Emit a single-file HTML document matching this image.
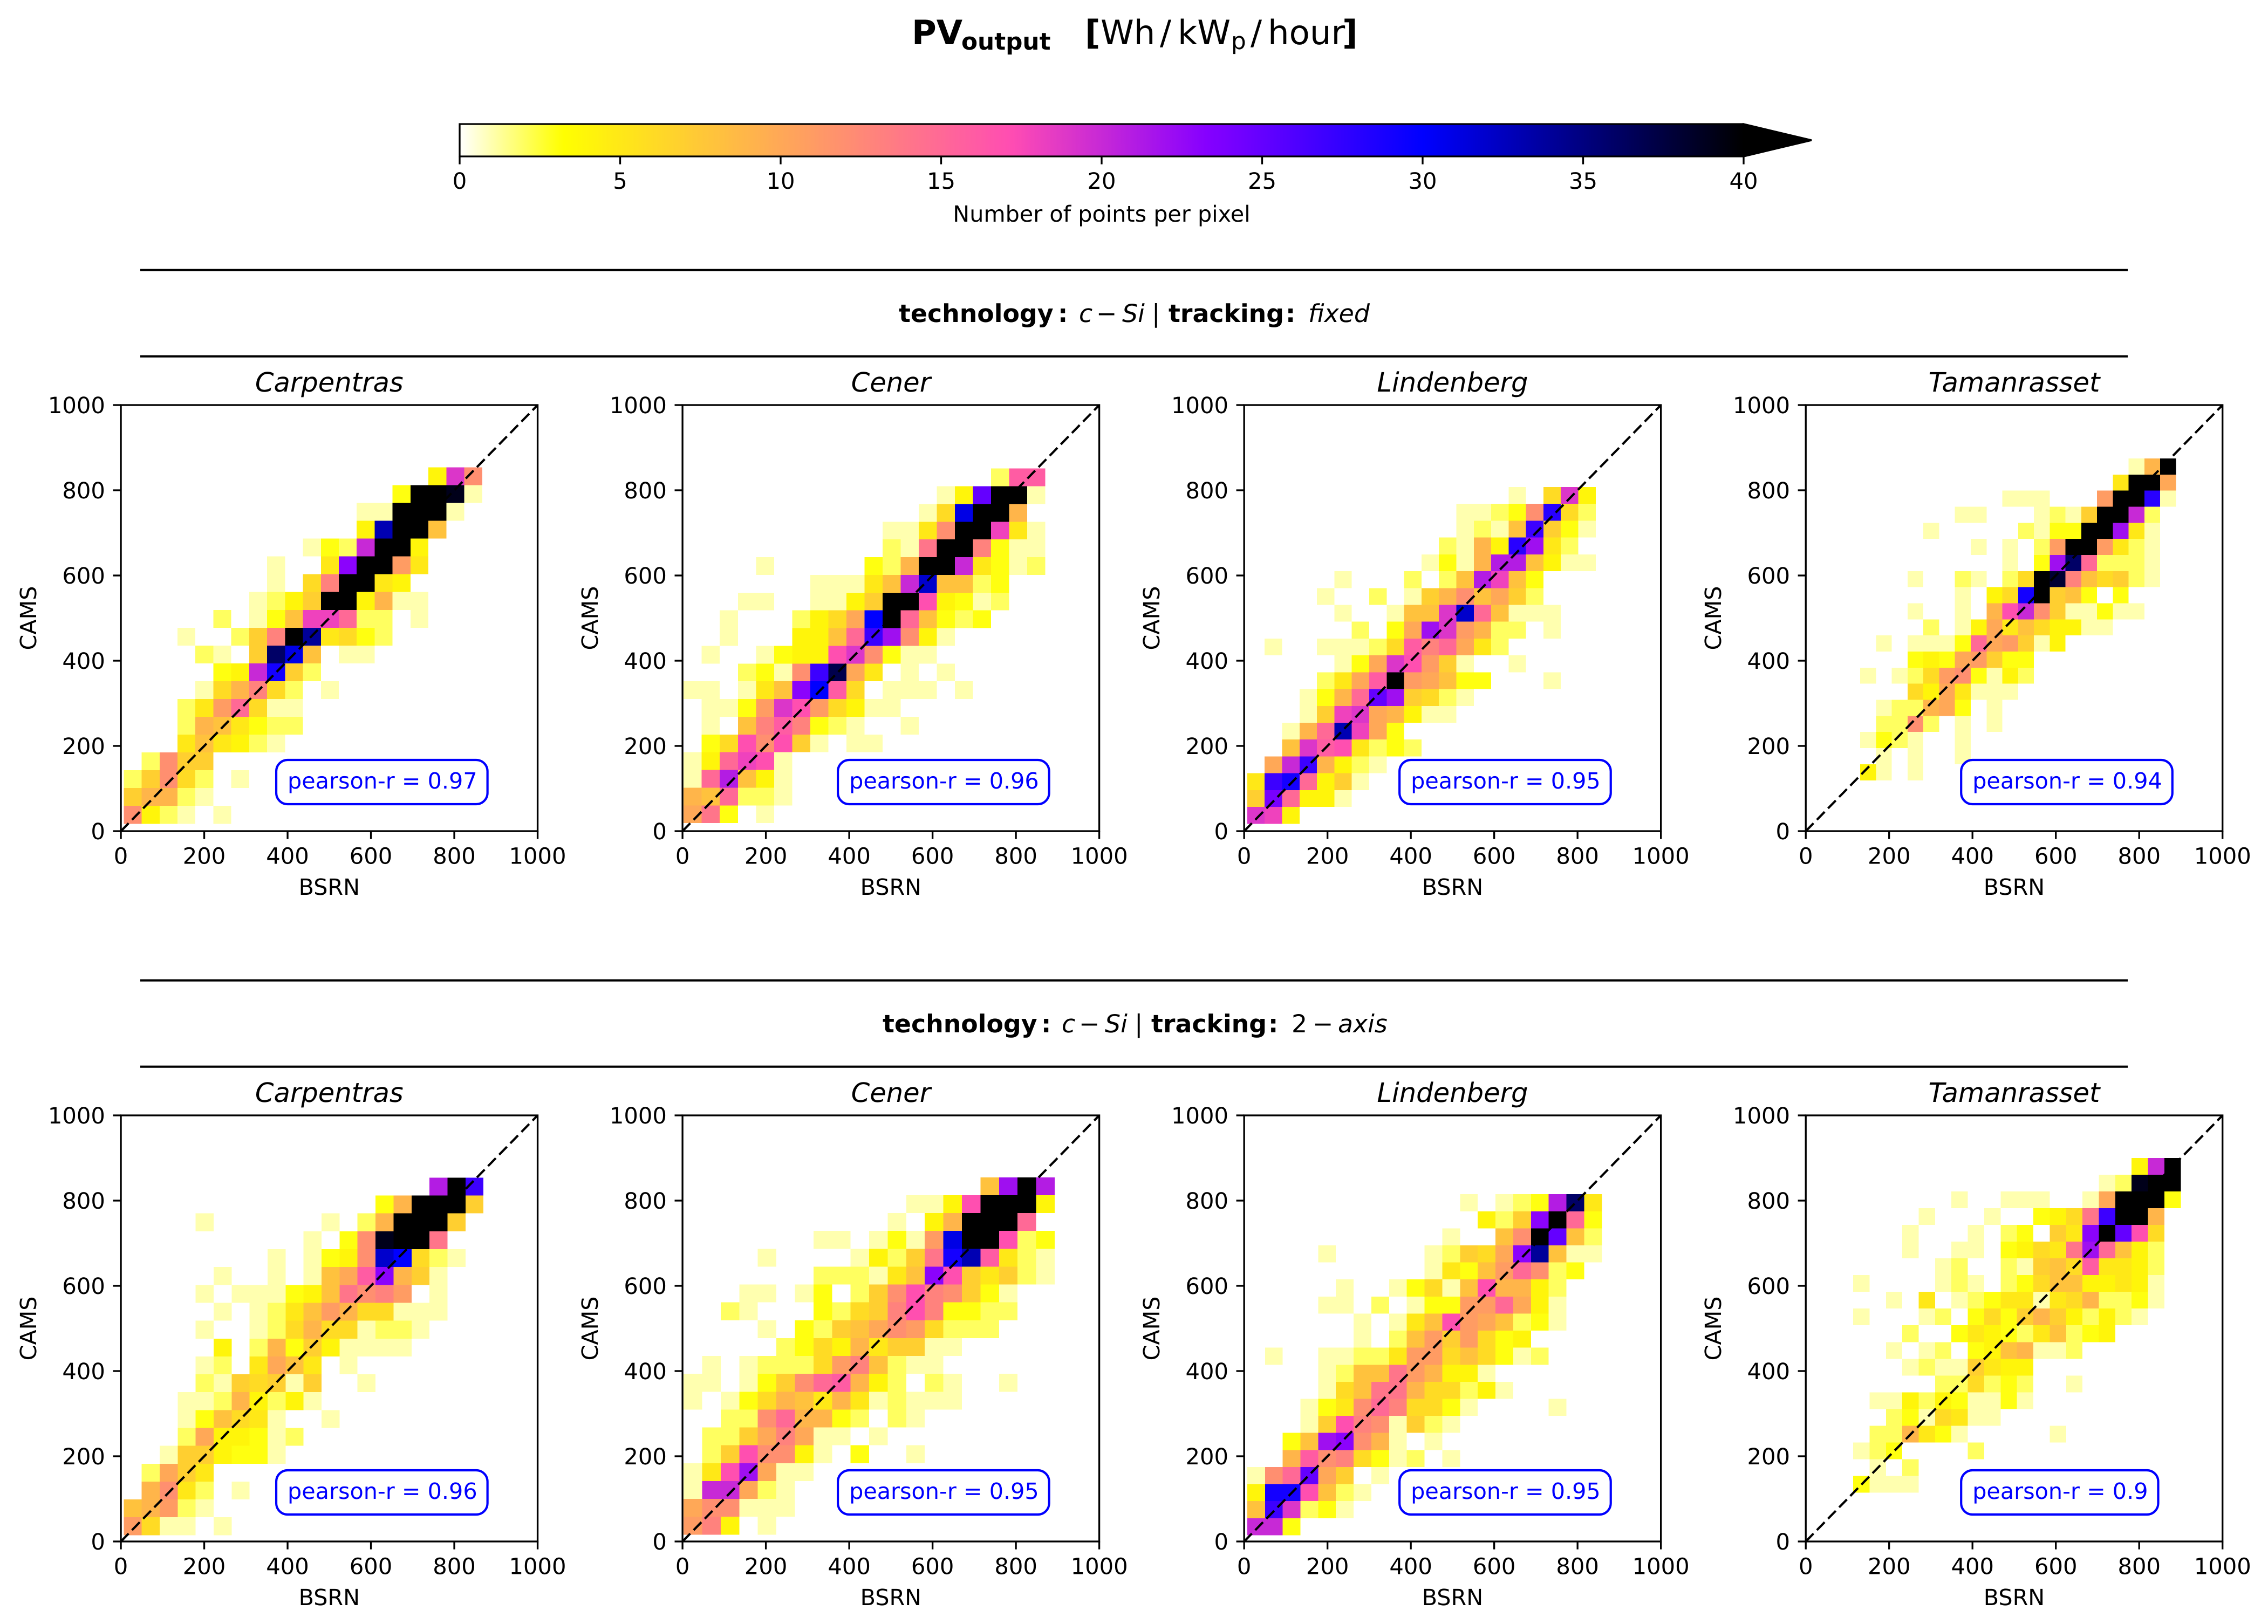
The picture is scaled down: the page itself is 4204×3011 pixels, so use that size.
<!DOCTYPE html>
<html lang="en">
<head>
<meta charset="utf-8">
<title>PV output density scatter</title>
<style>
html,body{margin:0;padding:0;background:#fff}
svg{display:block}
text{font-family:"DejaVu Sans","Liberation Sans",sans-serif;fill:#000;text-rendering:geometricPrecision}
.b{font-weight:bold}
.i{font-style:italic}
</style>
</head>
<body>
<svg id="figure" xmlns="http://www.w3.org/2000/svg" width="4204" height="3011" viewBox="0 0 4204 3011">
<rect x="0" y="0" width="4204" height="3011" fill="#fff"/>
<g>
<text class="b" x="1690" y="82" font-size="62.5">PV</text>
<text class="b" x="1782" y="92" font-size="43.75">output</text>
<text class="b" x="2011" y="82" font-size="62.5">[</text>
<text x="2040" y="82" font-size="62.5">Wh</text>
<text x="2150" y="82" font-size="62.5">/</text>
<text x="2183" y="82" font-size="62.5">kW</text>
<text x="2282" y="91" font-size="43.75">p</text>
<text x="2318" y="82" font-size="62.5">/</text>
<text x="2350" y="82" font-size="62.5">hour</text>
<text class="b" x="2488" y="82" font-size="62.5">]</text>
</g>
<g>
<line x1="260" x2="3944" y1="500.7" y2="500.7" stroke="#000" stroke-width="4.17"/>
<line x1="260" x2="3944" y1="660.7" y2="660.7" stroke="#000" stroke-width="4.17"/>
<text class="b" x="1666" y="597" font-size="45.8">technology</text>
<text class="b" x="1961" y="597" font-size="45.8">:</text>
<text class="i" x="2000" y="597" font-size="45.8">c</text>
<text x="2032" y="597" font-size="45.8">−</text>
<text class="i" x="2080" y="597" font-size="45.8">Si</text>
<text x="2135" y="597" font-size="45.8">|</text>
<text class="b" x="2166" y="597" font-size="45.8">tracking</text>
<text class="b" x="2383" y="597" font-size="45.8">:</text>
<text class="i" x="2425" y="597" font-size="45.8">fixed</text>
</g>
<g>
<line x1="260" x2="3944" y1="1817.7" y2="1817.7" stroke="#000" stroke-width="4.17"/>
<line x1="260" x2="3944" y1="1977.7" y2="1977.7" stroke="#000" stroke-width="4.17"/>
<text class="b" x="1636" y="1914" font-size="45.8">technology</text>
<text class="b" x="1930" y="1914" font-size="45.8">:</text>
<text class="i" x="1968" y="1914" font-size="45.8">c</text>
<text x="2000" y="1914" font-size="45.8">−</text>
<text class="i" x="2048" y="1914" font-size="45.8">Si</text>
<text x="2103" y="1914" font-size="45.8">|</text>
<text class="b" x="2134" y="1914" font-size="45.8">tracking</text>
<text class="b" x="2351" y="1914" font-size="45.8">:</text>
<text x="2394" y="1914" font-size="45.8">2</text>
<text x="2433" y="1914" font-size="45.8">−</text>
<text class="i" x="2480" y="1914" font-size="45.8">axis</text>
</g>
<g id="colorbar">
<defs><linearGradient id="cbar-gradient" x1="0" x2="1" y1="0" y2="0"></linearGradient></defs>
<text x="2042" y="411" font-size="41.3" text-anchor="middle">Number of points per pixel</text>
</g>
<g id="panels"></g>
</svg>
<script>
// Each matrix: 20 rows listed from highest CAMS bin to lowest; columns from lowest BSRN bin upward (trailing zeros omitted).
const carpentrasFixed = [
[0,0,0,0,0,0,0,0,0,0,0,0,0,0,0,0,0,4,19,12],
[0,0,0,0,0,0,0,0,0,0,0,0,0,0,0,3,40,40,39,1],
[0,0,0,0,0,0,0,0,0,0,0,0,0,1,1,40,40,40,1],
[0,0,0,0,0,0,0,0,0,0,0,0,0,4,33,40,40,8],
[0,0,0,0,0,0,0,0,0,0,1,3,2,20,40,40,4],
[0,0,0,0,0,0,0,0,1,0,0,5,23,40,40,11,5],
[0,0,0,0,0,0,0,0,1,0,6,13,40,40,5,4],
[0,0,0,0,0,0,0,1,2,4,7,40,40,4,9,1,1],
[0,0,0,0,0,2,0,1,3,8,18,18,15,2,2,0,1],
[0,0,0,1,0,0,2,7,13,40,34,5,6,3,2],
[0,0,0,0,2,1,0,7,36,31,8,0,1,1],
[0,0,0,0,0,3,4,20,29,7,2],
[0,0,0,0,1,6,9,13,6,2,0,1],
[0,0,0,2,5,11,15,6,1,1],
[0,0,0,2,9,8,5,3,2,2],
[0,0,0,5,8,5,4,2,1],
[0,2,12,7,7],
[2,7,12,6,2,0,1],
[7,9,9,2,1],
[12,4,2,1,0,1]
];
const carpentrasFixedBins = [6.8,867,17.4,853.9];
const cenerFixed = [
[0,0,0,0,0,0,0,0,0,0,0,0,0,0,0,0,0,2,16,16],
[0,0,0,0,0,0,0,0,0,0,0,0,0,0,1,4,25,40,40,1],
[0,0,0,0,0,0,0,0,0,0,0,0,0,1,6,31,40,40,9],
[0,0,0,0,0,0,0,0,0,0,0,1,1,5,12,40,40,18,5,1],
[0,0,0,0,0,0,0,0,0,0,0,2,1,14,40,40,13,3,1,1],
[0,0,0,0,1,0,0,0,0,0,3,2,9,40,40,20,5,3,1,2],
[0,0,0,0,0,0,0,1,1,1,5,8,20,32,8,8,2,3],
[0,0,0,1,1,0,0,1,1,4,7,40,40,17,4,3,1,2],
[0,0,1,0,0,0,2,4,6,10,30,40,15,8,3,2,3],
[0,0,1,0,0,0,4,4,8,15,27,22,12,4,1],
[0,1,0,0,1,3,4,4,17,19,12,3,1,1],
[0,0,0,2,3,1,12,27,37,10,5,0,1,0,1],
[1,1,0,1,5,8,23,30,16,6,0,1,1,1,0,1],
[0,1,1,3,11,19,17,11,6,4,1,1],
[0,1,0,8,13,16,13,3,2,1,0,0,1],
[0,3,6,17,12,17,7,1,0,1,1],
[1,4,15,18,17,1],
[1,15,21,8,4,1],
[9,8,15,2,2,1],
[10,14,3,0,1]
];
const cenerFixedBins = [2.7,870.7,18.8,851];
const lindenbergFixed = [
[0,0,0,0,0,0,0,0,0,0,0,0,0,0,0,1,0,6,19,4],
[0,0,0,0,0,0,0,0,0,0,0,0,1,1,2,3,12,28,6,2],
[0,0,0,0,0,0,0,0,0,0,0,0,1,2,1,8,27,7,3,1],
[0,0,0,0,0,0,0,0,0,0,0,2,1,9,4,28,22,5,2],
[0,0,0,0,0,0,0,0,0,0,1,3,1,9,21,21,8,4,1,1],
[0,0,0,0,0,1,0,0,0,2,0,2,8,21,18,8,3],
[0,0,0,0,1,0,0,2,0,1,7,9,12,8,10,7,2],
[0,0,0,0,0,1,0,0,1,8,8,19,32,15,8,1,1,1],
[0,0,0,0,0,0,2,0,3,10,22,19,11,9,2,2,0,1],
[0,1,0,0,1,1,1,2,6,16,13,15,10,5,2],
[0,0,0,0,0,1,3,10,19,17,11,7,1,0,0,1],
[0,0,0,0,2,5,10,16,40,11,10,8,3,3,0,0,0,1],
[0,0,0,1,3,9,15,25,22,7,6,2,1],
[0,0,0,1,7,18,19,10,9,4,1,1],
[0,0,1,9,15,33,18,10,3],
[0,0,8,19,16,17,5,2,3,2],
[0,10,20,27,9,4,2,1],
[5,27,29,15,4,7,1],
[7,24,15,4,4,1],
[19,18,4]
];
const lindenbergFixedBins = [7.4,843.6,17.4,807.6];
const tamanrassetFixed = [
[0,0,0,0,0,0,0,0,0,0,0,0,0,0,0,0,0,1,9,40],
[0,0,0,0,0,0,0,0,0,0,0,0,0,0,0,0,5,40,40,10],
[0,0,0,0,0,0,0,0,0,1,1,1,0,0,0,11,40,40,28,1],
[0,0,0,0,0,0,1,1,0,0,0,1,2,1,7,40,40,20,2],
[0,0,0,0,1,0,0,0,0,0,2,1,3,3,40,40,22,5,1],
[0,0,0,0,0,0,0,1,0,1,0,2,11,40,40,11,5,2,1],
[0,0,0,0,0,0,0,0,0,1,0,3,22,36,15,2,2,2,1],
[0,0,0,1,0,0,2,1,0,2,6,40,38,13,8,6,7,2,1],
[0,0,0,0,0,0,1,0,4,6,29,40,7,8,3,0,3],
[0,0,0,1,0,0,1,0,9,17,20,12,7,1,1,3,1,1],
[0,0,0,0,2,0,1,4,10,5,8,6,4,4,1,1],
[0,1,0,1,1,1,3,15,10,11,7,1,4],
[0,0,0,3,4,3,10,11,7,3,3],
[1,0,1,2,6,11,12,3,1,4,2],
[0,0,0,6,4,10,5,1,1,1],
[0,1,2,2,9,10,3,0,1],
[0,2,2,12,2,0,1,0,1],
[1,3,2,1,0,0,1],
[0,1,0,1,0,0,1],
[4,1,0,1]
];
const tamanrassetFixedBins = [130.7,888.3,119.3,874.7];
const carpentrasTwoAxis = [
[0,0,0,0,0,0,0,0,0,0,0,0,0,0,0,0,0,21,40,27],
[0,0,0,0,0,0,0,0,0,0,0,0,0,0,3,9,40,40,40,7],
[0,0,0,0,1,0,0,0,0,0,0,1,0,2,9,40,40,40,7],
[0,0,0,0,0,0,0,0,0,0,1,0,3,12,39,40,40,14],
[0,0,0,0,0,0,0,0,1,0,1,3,4,12,32,30,6,2,1],
[0,0,0,0,0,1,0,0,1,0,1,8,10,16,23,9,7,1],
[0,0,0,0,1,0,1,1,1,3,4,8,14,12,13,11,0,1],
[0,0,0,0,0,1,0,1,2,5,8,11,9,6,6,1,1,1],
[0,0,0,0,1,0,0,1,2,6,9,6,6,1,2,2,1],
[0,0,0,0,0,4,0,2,9,3,7,4,1,1,1,1],
[0,0,0,0,1,2,0,5,10,8,5,0,1],
[0,0,0,0,2,1,7,6,7,1,7,0,0,1],
[0,0,0,1,1,2,9,4,2,4,1],
[0,0,0,1,3,8,6,5,1,0,0,1],
[0,0,0,2,10,4,4,3,1,2],
[0,0,1,7,7,4,3,3,1],
[0,2,10,7,5],
[0,9,12,5,2,0,1],
[8,9,11,2,1],
[11,6,1,1,0,1]
];
const carpentrasTwoAxisBins = [6.8,870,14.7,853.9];
const cenerTwoAxis = [
[0,0,0,0,0,0,0,0,0,0,0,0,0,0,0,0,8,22,40,21],
[0,0,0,0,0,0,0,0,0,0,0,0,1,1,4,17,40,40,40,4],
[0,0,0,0,0,0,0,0,0,0,0,1,0,4,9,40,40,40,15],
[0,0,0,0,0,0,0,1,1,0,1,3,1,11,31,40,40,17,2,3],
[0,0,0,0,1,0,0,0,0,1,4,2,7,14,29,33,16,5,2,1],
[0,0,0,0,0,0,0,2,2,2,1,5,8,23,17,7,5,7,2,1],
[0,0,0,1,1,0,1,3,0,2,7,12,17,13,12,7,3,1],
[0,0,2,1,0,0,0,3,2,6,7,13,17,13,3,3,2,2],
[0,0,0,0,1,0,3,2,7,8,10,12,11,6,2,2,2],
[0,0,0,0,0,2,3,6,4,9,5,7,7,1,1],
[0,1,0,1,2,2,2,6,11,13,8,2,1,1],
[1,1,0,1,3,7,12,15,16,9,4,2,0,2,1,0,0,1],
[1,0,1,3,6,9,8,5,9,5,1,2,1,1,1],
[0,0,2,2,12,15,9,9,3,2,0,2,1],
[0,2,2,7,10,13,10,1,1,0,1],
[0,2,7,17,12,12,4,1,0,3,0,0,1],
[1,5,17,22,10,1,1],
[1,20,20,10,2,1],
[10,12,12,1,1,1],
[11,13,4,0,1]
];
const cenerTwoAxisBins = [2.7,893,16,854.6];
const lindenbergTwoAxis = [
[0,0,0,0,0,0,0,0,0,0,0,0,1,0,1,2,3,21,36,5],
[0,0,0,0,0,0,0,0,0,0,0,0,0,4,2,7,23,40,15,3],
[0,0,0,0,0,0,0,0,0,0,0,1,0,0,8,12,40,25,8,2],
[0,0,0,0,1,0,0,0,0,0,1,2,7,6,10,23,34,8,1,1],
[0,0,0,0,0,0,0,0,0,0,1,5,3,8,11,15,12,2,3],
[0,0,0,0,0,1,0,0,1,3,6,1,8,17,9,9,4,2],
[0,0,0,0,1,1,0,2,0,1,3,3,11,11,15,10,4,1],
[0,0,0,0,0,0,1,0,1,5,8,17,11,10,8,2,3,1],
[0,0,0,0,0,0,1,0,2,8,11,7,11,6,3,4],
[0,1,0,0,1,1,2,2,5,11,11,6,8,6,3,1,2],
[0,0,0,0,1,2,8,8,14,11,9,4,4,1],
[0,0,0,0,1,6,8,14,14,9,6,6,2,4,1],
[0,0,0,1,3,5,12,15,13,6,6,3,1,0,0,0,0,1],
[0,0,0,1,7,17,13,12,1,7,2,1],
[0,0,3,8,22,23,12,9,1,0,1],
[0,0,9,16,12,13,6,3,1,2,0,1],
[1,12,15,25,10,7,0,1],
[4,29,29,17,8,2,1],
[8,27,19,2,3,1],
[20,20,3]
];
const lindenbergTwoAxisBins = [7.4,858.5,14.7,815];
const tamanrassetTwoAxis = [
[0,0,0,0,0,0,0,0,0,0,0,0,0,0,0,0,0,4,20,40],
[0,0,0,0,0,0,0,0,0,0,0,0,0,0,0,1,2,39,40,40],
[0,0,0,0,0,0,1,0,0,1,1,1,0,0,1,10,40,40,40,3],
[0,0,0,0,1,0,0,0,1,0,0,3,4,6,14,27,40,40,9],
[0,0,0,1,0,0,0,1,0,2,3,0,7,5,23,40,25,17,6],
[0,0,0,1,0,0,1,1,0,3,4,6,5,14,22,15,8,4,2],
[0,0,0,0,0,1,2,0,0,2,1,7,8,6,16,5,5,4,2],
[1,0,0,0,0,1,2,1,0,2,3,6,8,8,4,4,5,4,1],
[0,0,1,0,5,0,1,2,3,5,5,1,5,6,9,2,2,3,1],
[1,0,0,0,1,2,0,3,6,3,7,9,7,4,2,4,2,1],
[0,0,0,2,0,0,3,5,4,3,2,5,8,2,3,4],
[0,0,1,0,1,2,0,3,4,8,9,1,1,2],
[0,0,0,1,2,1,1,7,5,4,4],
[0,0,0,0,0,2,2,6,2,3,2,0,0,1],
[0,1,1,4,2,4,3,1,1,3,1],
[0,0,2,3,1,6,5,1,1],
[0,2,2,9,5,3,1,0,0,0,0,0,1],
[1,2,3,0,0,0,0,2],
[0,1,0,2],
[3,1,1,1]
];
const tamanrassetTwoAxisBins = [113.7,899.8,114.6,900];
const stationNames = ["Carpentras","Cener","Lindenberg","Tamanrasset"];
const pearsonFixed = [0.97,0.96,0.95,0.94];
const pearsonTwoAxis = [0.96,0.95,0.95,0.9];
const axisTicks = [0,200,400,600,800,1000];
const colorbarTicks = [0,5,10,15,20,25,30,35,40];
const matrixRows = [[carpentrasFixed,cenerFixed,lindenbergFixed,tamanrassetFixed],[carpentrasTwoAxis,cenerTwoAxis,lindenbergTwoAxis,tamanrassetTwoAxis]];
const binRows = [[carpentrasFixedBins,cenerFixedBins,lindenbergFixedBins,tamanrassetFixedBins],[carpentrasTwoAxisBins,cenerTwoAxisBins,lindenbergTwoAxisBins,tamanrassetTwoAxisBins]];
const pearsonRows = [pearsonFixed,pearsonTwoAxis];
const rowKeys = ["fixed","2-axis"];

const NS = "http://www.w3.org/2000/svg";
const AXIS_MAX = 1000, CBAR_MAX = 40;
const panelLeft0 = 224.06, panelStep = 1041.05, panelW = 772.5, panelH = 790;
const panelTops = [751, 2068];
const FS = 41.67, TICK = 14.6, PAD = 14.6, LW = 3.33;

function clip(v){return Math.max(0,Math.min(1,v));}
function colorFor(v){
  const t = 1 - Math.min(v,CBAR_MAX)/CBAR_MAX;
  const r = clip(t/0.32-0.78125);
  const g = clip(2*t-0.84);
  const b = clip(t<0.25 ? 4*t : (t<0.92 ? -2*t+1.84 : t/0.08-11.5));
  return "rgb("+Math.round(r*255)+","+Math.round(g*255)+","+Math.round(b*255)+")";
}
function make(tag,attrs,parent,txt){
  const el = document.createElementNS(NS,tag);
  for(const k in attrs){el.setAttribute(k,attrs[k]);}
  if(txt!==undefined){el.textContent = txt;}
  parent.appendChild(el);
  return el;
}

/* colorbar */
(function(){
  const bar = document.getElementById("colorbar");
  const grad = document.getElementById("cbar-gradient");
  const x0 = 852, x1 = 3232, yTop = 230, yBot = 290, tip = 3358;
  const cx = function(v){return x0+(x1-x0)*v/CBAR_MAX;};
  for(let i=0;i<=160;i++){
    const v = i/4;
    make("stop",{offset:(v/CBAR_MAX),"stop-color":colorFor(v)},grad);
  }
  let el = make("rect",{x:x0,y:yTop,width:x1-x0,height:yBot-yTop,fill:"url(#cbar-gradient)"},bar);
  
  
  el = make("polygon",{points:x1+","+yTop+" "+tip+","+((yTop+yBot)/2)+" "+x1+","+yBot,fill:"#000",stroke:"#000","stroke-width":LW},bar);
  
  
  el = make("path",{d:"M"+x1+" "+yTop+"H"+x0+"V"+yBot+"H"+x1,fill:"none",stroke:"#000","stroke-width":LW},bar);
  
  
  colorbarTicks.forEach(function(t){
    const tk = make("line",{x1:cx(t),x2:cx(t),y1:yBot,y2:yBot+TICK,stroke:"#000","stroke-width":LW},bar);
    
    
    const lb = make("text",{x:cx(t),y:350,"font-size":FS,"text-anchor":"middle"},bar,String(t));
    
    
  });
})();

/* panels */
(function(){
  const root = document.getElementById("panels");
  matrixRows.forEach(function(rowMatrices,ri){
    rowMatrices.forEach(function(matrix,ci){
      const left = panelLeft0+ci*panelStep, top = panelTops[ri], bottom = top+panelH, right = left+panelW;
      const xAxis = function(v){return left+panelW*v/AXIS_MAX;};
      const yAxis = function(v){return bottom-panelH*v/AXIS_MAX;};
      const bins = binRows[ri][ci];
      const nRows = matrix.length, nCols = 20;
      const dx = (bins[1]-bins[0])/nCols, dy = (bins[3]-bins[2])/nRows;

      const g = make("g",{},root);
      
      

      const bg = make("rect",{x:left,y:top,width:panelW,height:panelH,fill:"#fff"},g);
      
      

      const cells = make("g",{"shape-rendering":"crispEdges"},g);
      
      
      matrix.forEach(function(row,r){
        row.forEach(function(count,c){
          if(!count){return;}
          const vLow = bins[2]+(nRows-1-r)*dy;
          const x1 = xAxis(bins[0]+c*dx), x2 = xAxis(bins[0]+(c+1)*dx);
          const y1 = yAxis(vLow+dy), y2 = yAxis(vLow);
          const cell = make("rect",{x:x1,y:y1,width:x2-x1,height:y2-y1,fill:colorFor(count)},cells);
          
          
        });
      });

      const diag = make("line",{x1:xAxis(0),y1:yAxis(0),x2:xAxis(AXIS_MAX),y2:yAxis(AXIS_MAX),stroke:"#000","stroke-width":4.17,"stroke-dasharray":"20.5 9"},g);
      
      

      const lbl = "pearson-r = "+pearsonRows[ri][ci];
      const tx = xAxis(400), ty = yAxis(100);
      const box = make("rect",{x:tx-21,y:ty-53,width:10,height:82,rx:21,ry:21,fill:"#fff",stroke:"#0000ff","stroke-width":4.17},g);
      
      
      const pt = make("text",{x:tx,y:ty,"font-size":41.3},g,lbl);
      pt.style.fill = "#0000ff";
      
      
      box.setAttribute("width",pt.getComputedTextLength()+40);

      const frame = make("rect",{x:left,y:top,width:panelW,height:panelH,fill:"none",stroke:"#000","stroke-width":LW},g);
      
      

      axisTicks.forEach(function(t){
        const xt = make("line",{x1:xAxis(t),x2:xAxis(t),y1:bottom,y2:bottom+TICK,stroke:"#000","stroke-width":LW},g);
        
        
        const xl = make("text",{x:xAxis(t),y:bottom+60.5,"font-size":FS,"text-anchor":"middle"},g,String(t));
        
        
        const yt = make("line",{x1:left-TICK,x2:left,y1:yAxis(t),y2:yAxis(t),stroke:"#000","stroke-width":LW},g);
        
        
        const yl = make("text",{x:left-TICK-PAD,y:yAxis(t)+15.2,"font-size":FS,"text-anchor":"end"},g,String(t));
        
        
      });

      const title = make("text",{x:(left+right)/2,y:top-25,"font-size":49.6,"text-anchor":"middle","font-style":"italic"},g,stationNames[ci]);
      
      
      const xLab = make("text",{x:(left+right)/2,y:bottom+118,"font-size":41.3,"text-anchor":"middle"},g,"BSRN");
      
      
      const yx = left-157, yy = (top+bottom)/2;
      const yLab = make("text",{x:yx,y:yy,"font-size":41.3,"text-anchor":"middle",transform:"rotate(-90 "+yx+" "+yy+")"},g,"CAMS");
      
      
    });
  });
})();
</script>
</body>
</html>
